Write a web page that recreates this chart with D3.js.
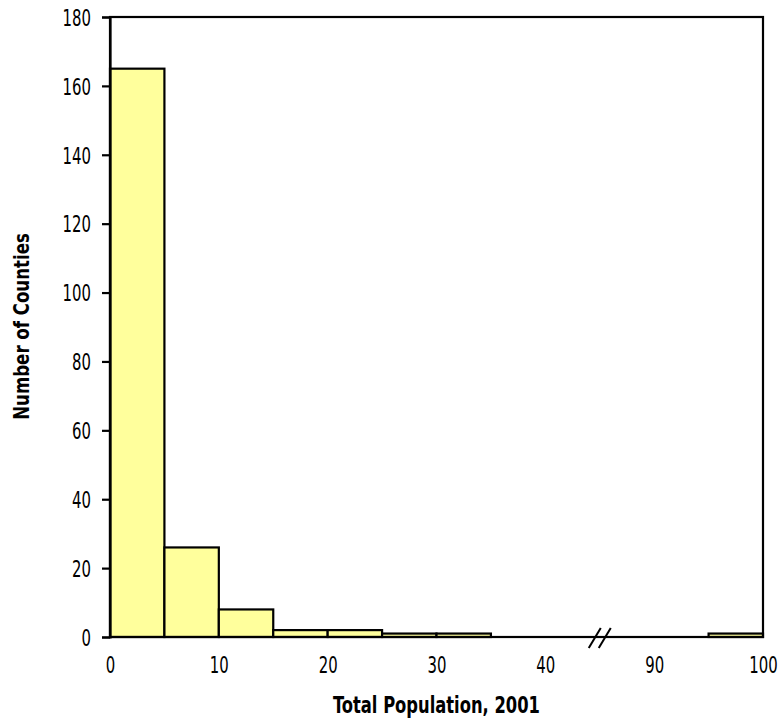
<!DOCTYPE html>
<html><head><meta charset="utf-8">
<script src="https://cdn.jsdelivr.net/npm/d3@7"></script>
<style>
body{margin:0;background:#fff;}
svg text{font-family:"DejaVu Sans Condensed","DejaVu Sans",sans-serif !important;font-stretch:condensed;fill:#000;}
</style></head>
<body><svg id="c" width="782" height="719"></svg>
<script>
const binStarts = [0,5,10,15,20,25,30,95];
const binWidth = 5;
const counts = [165,26,8,2,2,1,1,1];
const xTicks = [0,10,20,30,40,90,100];
const yTicks = [0,20,40,60,80,100,120,140,160,180];
const xTitle = "Total Population, 2001";
const yTitle = "Number of Counties";

const svg = d3.select("#c");
const L=110,R=763,T=17,B=637;
const unit=(R-L)/60;
const xb = L+45*unit;
const x = d3.scaleLinear().domain([0,45,85,100]).range([L,xb,xb,R]);
const y = d3.scaleLinear().domain([0,180]).range([B,T]);
const SX = 0.72;

svg.append("g").selectAll("rect").data(binStarts).join("rect")
  .attr("x",(d)=>x(d)).attr("width",(d)=>x(d+binWidth)-x(d))
  .attr("y",(d,i)=>y(counts[i])).attr("height",(d,i)=>y(0)-y(counts[i]))
  .attr("fill","#FFFF9C").attr("stroke","#000").attr("stroke-width",2.2);

svg.append("rect").attr("x",L).attr("y",T).attr("width",R-L).attr("height",B-T)
  .attr("fill","none").attr("stroke","#000").attr("stroke-width",2.2);

const ya = svg.append("g").attr("transform",`translate(${L},0)`)
  .call(d3.axisLeft(y).tickValues(yTicks).tickSize(8).tickPadding(11));
ya.select(".domain").attr("stroke-width",2.2);
ya.selectAll(".tick line").attr("stroke-width",2.2);
ya.selectAll("text").attr("font-size",23).attr("x",-19/SX).attr("dy","0.36em")
  .attr("transform",`scale(${SX},1)`);

const xa = svg.append("g").attr("transform",`translate(0,${B})`)
  .call(d3.axisBottom(x).tickValues(xTicks).tickSize(0));
xa.select(".domain").remove();
xa.selectAll("text").attr("font-size",23).attr("y",36).attr("dy",0)
  .attr("transform",`scale(${SX},1)`);

const bg = svg.append("g");
[-5,5].forEach(o=>{
  bg.append("line").attr("x1",xb+o-6).attr("y1",B+11).attr("x2",xb+o+6).attr("y2",B-9)
    .attr("stroke","#000").attr("stroke-width",2);
});

svg.append("text").attr("transform",`translate(${(L+R)/2},713) scale(0.79,1)`)
  .attr("text-anchor","middle").attr("font-size",23).attr("font-weight","bold").text(xTitle);
svg.append("text").attr("transform",`translate(29,326.5) rotate(-90) scale(0.84,1)`)
  .attr("text-anchor","middle").attr("font-size",22).attr("font-weight","bold").text(yTitle);
</script></body></html>
